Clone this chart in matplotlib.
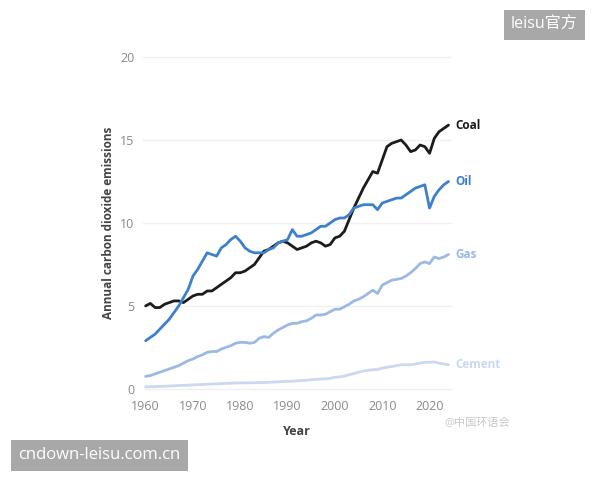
import numpy as np
import matplotlib.pyplot as plt

plt.rcParams['font.family'] = ['Open Sans', 'Noto Sans CJK SC', 'DejaVu Sans']

years = np.arange(1960, 2025)

coal = [5.0, 5.15, 4.9, 4.9, 5.1, 5.2, 5.3, 5.3, 5.2, 5.4,
        5.6, 5.7, 5.7, 5.9, 5.9, 6.1, 6.3, 6.5, 6.7, 7.0,
        7.0, 7.1, 7.3, 7.5, 7.9, 8.3, 8.4, 8.6, 8.8, 8.9,
        8.8, 8.6, 8.4, 8.5, 8.6, 8.8, 8.9, 8.8, 8.6, 8.7,
        9.1, 9.2, 9.5, 10.2, 10.9, 11.5, 12.1, 12.6, 13.1, 13.0,
        13.8, 14.6, 14.8, 14.9, 15.0, 14.7, 14.3, 14.4, 14.7, 14.6,
        14.2, 15.1, 15.5, 15.7, 15.9]

oil = [2.9, 3.1, 3.3, 3.6, 3.9, 4.2, 4.6, 5.0, 5.5, 6.0,
       6.8, 7.2, 7.7, 8.2, 8.1, 8.0, 8.5, 8.7, 9.0, 9.2,
       8.9, 8.5, 8.3, 8.2, 8.2, 8.2, 8.4, 8.5, 8.8, 8.9,
       9.0, 9.6, 9.2, 9.2, 9.3, 9.4, 9.6, 9.8, 9.8, 10.0,
       10.2, 10.3, 10.3, 10.5, 10.9, 11.0, 11.1, 11.1, 11.1, 10.8,
       11.2, 11.3, 11.4, 11.5, 11.5, 11.7, 11.9, 12.1, 12.2, 12.3,
       10.9, 11.6, 12.0, 12.3, 12.5]

gas = [0.75, 0.8, 0.9, 1.0, 1.1, 1.2, 1.3, 1.4, 1.55, 1.7,
       1.8, 1.95, 2.05, 2.2, 2.25, 2.25, 2.4, 2.5, 2.6, 2.75,
       2.8, 2.8, 2.75, 2.8, 3.05, 3.15, 3.1, 3.35, 3.55, 3.7,
       3.85, 3.95, 3.95, 4.05, 4.1, 4.25, 4.45, 4.45, 4.5, 4.65,
       4.8, 4.8, 4.95, 5.1, 5.3, 5.4, 5.55, 5.75, 5.95, 5.75,
       6.25, 6.4, 6.55, 6.6, 6.65, 6.8, 7.0, 7.25, 7.55, 7.65,
       7.55, 7.95, 7.85, 7.95, 8.1]

cement = [0.12, 0.13, 0.14, 0.15, 0.16, 0.17, 0.18, 0.2, 0.21, 0.22,
          0.24, 0.25, 0.26, 0.28, 0.29, 0.3, 0.31, 0.33, 0.34, 0.35,
          0.36, 0.36, 0.36, 0.37, 0.38, 0.38, 0.39, 0.41, 0.42, 0.44,
          0.45, 0.46, 0.48, 0.5, 0.52, 0.55, 0.57, 0.59, 0.6, 0.63,
          0.7, 0.72, 0.77, 0.85, 0.92, 1.0, 1.07, 1.12, 1.15, 1.17,
          1.25, 1.3, 1.35, 1.4, 1.45, 1.45, 1.45, 1.5, 1.55, 1.6,
          1.6, 1.62, 1.55, 1.5, 1.45]

series = [("Coal", coal, "#1c1c1c"), ("Oil", oil, "#3d80cc"),
          ("Gas", gas, "#9cb9e6"), ("Cement", cement, "#cbd8f0")]

fig = plt.figure(figsize=(6, 4.8), dpi=100)
ax = fig.add_axes([0.238, 0.183, 0.515, 0.705])

for name, vals, col in series:
    ax.plot(years, vals, color=col, lw=2.0, solid_capstyle='round')
    ax.text(years[-1] + 1.5, vals[-1], name, color=col, fontsize=8.5,
            fontweight='bold', va='center', ha='left')

ax.set_xlim(1959.4, 2024.7)
ax.set_ylim(-0.2, 20.2)
ax.set_xticks(range(1960, 2021, 10))
ax.set_yticks(range(0, 21, 5))
ax.grid(axis='y', color='#f0f0f0', lw=1)
ax.set_axisbelow(True)
for s in ax.spines.values():
    s.set_visible(False)
ax.tick_params(length=0, labelsize=9, labelcolor='#8a8a8a', pad=6)
ax.set_xlabel("Year", fontsize=9, fontweight='bold', color='#444444', labelpad=8)
ax.set_ylabel("Annual carbon dioxide emissions", fontsize=8.5, fontweight='bold',
              color='#444444', labelpad=4)

# watermarks
fig.text(0.963, 0.948, "leisu官方", fontsize=11.5, color='white', ha='right', va='center',
         bbox=dict(boxstyle='square,pad=0.45', fc='#a8a8a8', ec='none'))
fig.text(0.03, 0.052, "cndown-leisu.com.cn", fontsize=12, color='white', ha='left', va='center',
         bbox=dict(boxstyle='square,pad=0.45', fc='#a8a8a8', ec='none'))
fig.text(0.74, 0.118, "@中国环语会", fontsize=8, color='#c8c8c8', ha='left', va='center')

fig.savefig("out.png", dpi=100)
